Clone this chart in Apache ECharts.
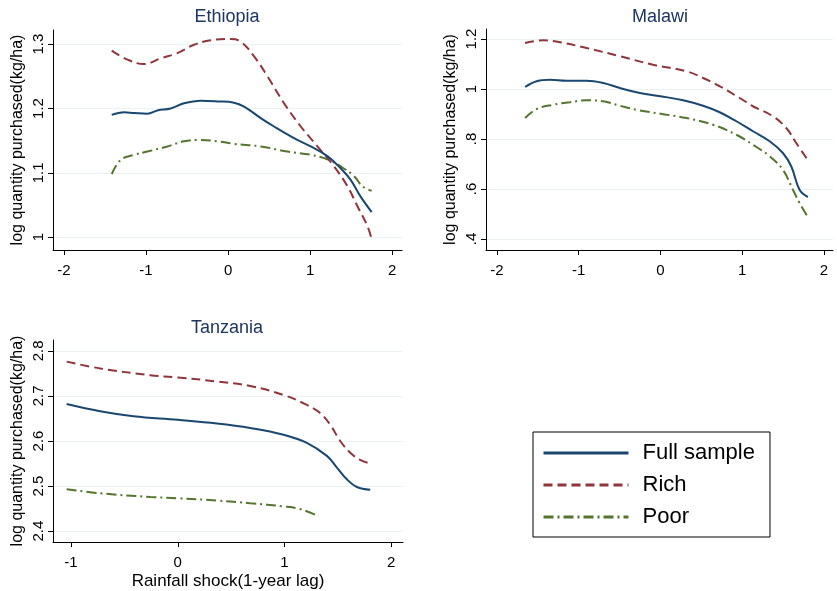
<!DOCTYPE html>
<html>
<head>
<meta charset="utf-8">
<script src="https://cdn.jsdelivr.net/npm/echarts@6/dist/echarts.min.js"></script>
<style>html,body{margin:0;padding:0;background:#fff}#c{width:837px;height:591px}</style>
</head>
<body>
<div id="c"></div>
<script>
// ---- Data ----
const seriesNames = ['Full sample', 'Rich', 'Poor'];
const panelTitles = ['Ethiopia', 'Malawi', 'Tanzania'];
const yAxisTitle = 'log quantity purchased(kg/ha)';
const xAxisTitle = 'Rainfall shock(1-year lag)';

// Ethiopia
const ethFullX = [-1.418,-1.268,-1.146,-0.984,-0.862,-0.699,-0.537,-0.333,-0.130,0.073,0.195,0.398,0.560,0.804,1.007,1.210,1.372,1.494,1.616,1.750];
const ethFullY = [1.190,1.194,1.193,1.192,1.197,1.200,1.208,1.212,1.211,1.209,1.203,1.185,1.172,1.154,1.141,1.126,1.107,1.089,1.063,1.039];
const ethRichX = [-1.418,-1.227,-1.024,-0.821,-0.618,-0.415,-0.211,0.033,0.154,0.317,0.480,0.683,0.886,1.089,1.292,1.455,1.577,1.699,1.750];
const ethRichY = [1.290,1.276,1.269,1.278,1.286,1.299,1.306,1.308,1.304,1.281,1.250,1.208,1.172,1.141,1.110,1.079,1.048,1.017,0.997];
const ethPoorX = [-1.418,-1.309,-1.146,-0.984,-0.740,-0.537,-0.374,-0.130,0.073,0.398,0.723,1.007,1.210,1.372,1.535,1.637,1.750];
const ethPoorY = [1.098,1.120,1.128,1.133,1.141,1.149,1.151,1.149,1.145,1.141,1.133,1.128,1.121,1.110,1.095,1.079,1.072];

// Malawi
const malFullX = [-1.656,-1.514,-1.351,-1.148,-0.903,-0.700,-0.496,-0.252,0.000,0.277,0.521,0.724,0.928,1.131,1.335,1.497,1.599,1.701,1.803];
const malFullY = [1.008,1.031,1.037,1.033,1.033,1.024,1.004,0.984,0.971,0.955,0.933,0.907,0.871,0.831,0.791,0.744,0.691,0.597,0.568];
const malRichX = [-1.656,-1.432,-1.229,-0.903,-0.496,-0.090,0.317,0.521,0.724,0.968,1.131,1.375,1.538,1.660,1.803];
const malRichY = [1.184,1.195,1.187,1.164,1.131,1.097,1.071,1.044,1.011,0.964,0.931,0.891,0.844,0.784,0.715];
const malPoorX = [-1.656,-1.514,-1.310,-1.107,-0.903,-0.700,-0.496,-0.293,0.000,0.317,0.643,0.928,1.131,1.335,1.497,1.620,1.701,1.803];
const malPoorY = [0.884,0.920,0.937,0.947,0.955,0.951,0.933,0.917,0.901,0.884,0.857,0.817,0.777,0.731,0.677,0.597,0.544,0.488];

// Tanzania
const tanFullX = [-1.041,-0.728,-0.416,0.000,0.366,0.678,0.991,1.209,1.397,1.491,1.584,1.678,1.803];
const tanFullY = [2.682,2.666,2.655,2.647,2.639,2.629,2.614,2.596,2.567,2.541,2.515,2.498,2.492];
const tanRichX = [-1.041,-0.728,-0.259,0.000,0.366,0.678,0.991,1.209,1.334,1.428,1.522,1.616,1.709,1.803];
const tanRichY = [2.776,2.761,2.746,2.741,2.732,2.722,2.702,2.680,2.662,2.636,2.600,2.574,2.558,2.550];
const tanPoorX = [-1.041,-0.728,-0.259,0.000,0.366,0.678,0.991,1.147,1.319];
const tanPoorY = [2.493,2.484,2.476,2.473,2.468,2.462,2.455,2.449,2.433];

// Tick values
const ethXTicks = [-2,-1,0,1,2];
const ethYTicks = [1.0,1.1,1.2,1.3];
const malXTicks = [-2,-1,0,1,2];
const malYTicks = [0.4,0.6,0.8,1.0,1.2];
const tanXTicks = [-1,0,1,2];
const tanYTicks = [2.4,2.5,2.6,2.7,2.8];

// ---- Build ----
const FONT = "'Liberation Sans', Arial, sans-serif";
const colors = ['#1a476f', '#90353b', '#55752f'];
const lineTypes = ['solid', [9,5], [10,4,2,4]];

function pairs(xs, ys){ return xs.map((x,i)=>[x, ys[i]]); }
function fmtY(v){
  let s = String(+v.toFixed(2));
  if (s.startsWith('0.')) s = s.slice(1);
  return s;
}

const grids = [
  {left:53, top:30, width:349, height:220},
  {left:486, top:29, width:347, height:221},
  {left:53, top:340, width:350, height:203}
];
const xRanges = [[-2.134,2.12],[-2.134,2.11],[-1.169,2.11]];
const yRanges = [[0.98,1.322],[0.356,1.24],[2.376,2.824]];
const xTicks = [ethXTicks, malXTicks, tanXTicks];
const yTicks = [ethYTicks, malYTicks, tanYTicks];

const xAxes = [], yAxes = [];
for (let i=0;i<3;i++){
  xAxes.push({
    type:'value', gridIndex:i, min:xRanges[i][0], max:xRanges[i][1],
    axisLine:{show:true, onZero:false, lineStyle:{color:'#000', width:1}},
    axisTick:{show:true, length:5, lineStyle:{color:'#000'}, customValues:xTicks[i]},
    axisLabel:{color:'#000', fontSize:15, fontFamily:FONT, margin:13, customValues:xTicks[i], formatter:v=>String(v)},
    splitLine:{show:false},
    name: i===2 ? xAxisTitle : '', nameLocation:'middle', nameGap:31,
    nameTextStyle:{color:'#000', fontSize:17, fontFamily:FONT}
  });
  yAxes.push({
    type:'value', gridIndex:i, min:yRanges[i][0], max:yRanges[i][1],
    axisLine:{show:true, onZero:false, lineStyle:{color:'#000', width:1}},
    axisTick:{show:true, length:5, lineStyle:{color:'#000'}, customValues:yTicks[i]},
    axisLabel:{color:'#000', fontSize:15, fontFamily:FONT, rotate:90, margin:7, customValues:yTicks[i], formatter:fmtY},
    splitLine:{show:true, lineStyle:{color:'#eaf2f3', width:1}},
    name: yAxisTitle, nameLocation:'middle', nameGap:27,
    nameTextStyle:{color:'#000', fontSize:16, fontFamily:FONT}
  });
}

const panelData = [
  [pairs(ethFullX,ethFullY), pairs(ethRichX,ethRichY), pairs(ethPoorX,ethPoorY)],
  [pairs(malFullX,malFullY), pairs(malRichX,malRichY), pairs(malPoorX,malPoorY)],
  [pairs(tanFullX,tanFullY), pairs(tanRichX,tanRichY), pairs(tanPoorX,tanPoorY)]
];
const series = [];
for (let p=0;p<3;p++){
  for (let s=0;s<3;s++){
    series.push({
      name: seriesNames[s], type:'line', xAxisIndex:p, yAxisIndex:p,
      data: panelData[p][s], symbol:'none', smooth:0.4, silent:true,
      lineStyle:{color:colors[s], width:2, type:lineTypes[s]},
      itemStyle:{color:colors[s]}, z: 3-s
    });
  }
}

const titleCenters = [[222,3],[655,3],[222,314]];
const titles = panelTitles.map((t,i)=>({
  text:t, left:titleCenters[i][0], top:titleCenters[i][1], textAlign:'center',
  textStyle:{color:'#1e3561', fontSize:18, fontWeight:'normal', fontFamily:FONT}
}));

const chart = echarts.init(document.getElementById('c'), null, {renderer:'canvas'});
chart.setOption({
  backgroundColor:'#fff',
  animation:false,
  title: titles,
  grid: grids,
  xAxis: xAxes,
  yAxis: yAxes,
  legend:{
    data: seriesNames, orient:'vertical', left:533, top:432,
    padding:[10,15,9,9], itemWidth:85, itemHeight:22, itemGap:10,
    borderColor:'#000', borderWidth:1, borderRadius:0,
    itemStyle:{opacity:0},
    lineStyle:{width:3},
    textStyle:{color:'#000', fontSize:22, fontFamily:FONT, padding:[0,0,0,9], lineHeight:22},
    selectedMode:false
  },
  series: series
});
</script>
</body>
</html>
